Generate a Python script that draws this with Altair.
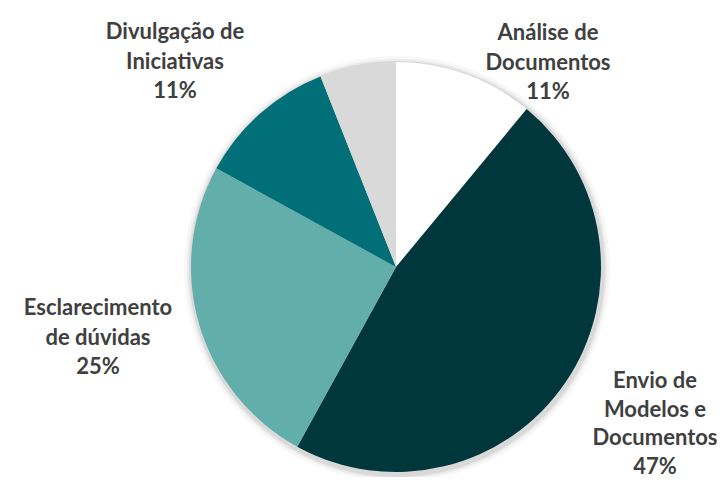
import altair as alt
import pandas as pd
import math

categories = ["Análise de Documentos", "Envio de Modelos e Documentos",
              "Esclarecimento de dúvidas", "Divulgação de Iniciativas", "Outros"]
values = [11, 47, 25, 11, 6]
colors = ["#ffffff", "#00373c", "#62aeaa", "#006f78", "#d9d9d9"]
label_lines = [["Análise de", "Documentos"],
               ["Envio de", "Modelos e", "Documentos"],
               ["Esclarecimento", "de dúvidas"],
               ["Divulgação de", "Iniciativas"],
               None]

df = pd.DataFrame({"cat": categories, "value": values, "order": list(range(len(values)))})

CX, CY, R = 388, 259, 205
W, H = 709, 469

shadows = []
for r, op in [(213, 0.03), (210, 0.05), (208, 0.07)]:
    shadows.append(
        alt.Chart(pd.DataFrame({"a": [1]})).mark_arc(
            theta=0, theta2=2 * math.pi, radius=r, color="#000000", opacity=op
        ).encode(x=alt.value(CX + 1), y=alt.value(CY + 2))
    )

pie = alt.Chart(df).mark_arc(radius=R, stroke=None).encode(
    theta=alt.Theta("value:Q", stack=True),
    order=alt.Order("order:Q"),
    color=alt.Color("cat:N", scale=alt.Scale(domain=categories, range=colors), legend=None),
    x=alt.value(CX), y=alt.value(CY),
)

# label anchor (center of first line), chart coords
label_pos = [(540, 25), (647, 373), (90, 300), (167, 24), None]
line_h = [29.5, 28.5, 29.5, 29.5, None]
texts = []
for i, lines in enumerate(label_lines):
    if lines is None:
        continue
    full = lines + [f"{values[i]}%"]
    x, y = label_pos[i]
    texts.append(
        alt.Chart(pd.DataFrame({"t": [full]})).mark_text(
            font="Lato", fontWeight="bold", fontSize=22, color="#404040",
            align="center", baseline="middle", lineHeight=line_h[i]
        ).encode(text="t", x=alt.value(x), y=alt.value(y))
    )

chart = alt.layer(*shadows, pie, *texts).properties(
    width=W, height=H, padding=0, autosize=alt.AutoSizeParams(type="none")
).configure_view(stroke=None)

chart.save("out.html", embed_options={"renderer": "svg", "actions": False})
